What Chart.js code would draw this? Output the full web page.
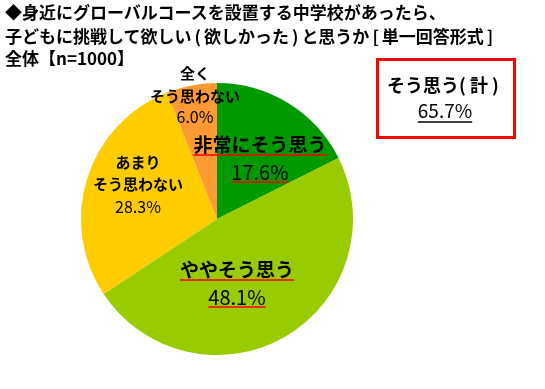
<!DOCTYPE html>
<html lang="ja">
<head>
<meta charset="utf-8">
<script src="https://cdn.jsdelivr.net/npm/chart.js@4"></script>
<style>
  html, body { margin: 0; padding: 0; background: #fff; }
  #wrap { position: relative; width: 545px; height: 389px; overflow: hidden; }
  #chart { position: absolute; left: 0; top: 0; }
  .title {
    position: absolute; left: 5px; margin: 0;
    font: bold 17px "Noto Sans CJK JP", sans-serif; color: #000;
    line-height: 20px; white-space: nowrap;
  }
  .p { margin: 0 3px; }
</style>
</head>
<body>
<div id="wrap">
  <canvas id="chart" width="545" height="389"></canvas>
  <div class="title" style="top:2px">◆身近にグローバルコースを設置する中学校があったら、</div>
  <div class="title" style="top:26px">子どもに挑戦して欲しい<span class="p">(</span>欲しかった<span class="p">)</span>と思うか<span class="p">[</span>単一回答形式<span class="p">]</span></div>
  <div class="title" style="top:48px">全体【n=1000】</div>
</div>
<script>
/* ---- Dados ---- */
const categories = ['非常にそう思う', 'ややそう思う', 'あまりそう思わない', '全くそう思わない'];
const shares     = [17.6, 48.1, 28.3, 6.0];
const colors     = ['#009900', '#99CC00', '#FFCC00', '#FF9933'];
const totalLabel = 'そう思う( 計 )';
const totalValue = 65.7;

/* ---- Rótulos (posição fixa, como no original) ---- */
const sliceLabels = [
  { lines: ['非常にそう思う'], x: 260, y: [145], pctY: 172, big: true },
  { lines: ['ややそう思う'],   x: 237, y: [270], pctY: 297, big: true },
  { lines: ['あまり', 'そう思わない'], x: 138, y: [162, 184], pctY: 207, big: false },
  { lines: ['全く', 'そう思わない'],   x: 195, y: [73, 96],   pctY: 117, big: false }
];

const JP = '"Noto Sans CJK JP", sans-serif';

function underline(ctx, text, x, y, color) {
  const w = ctx.measureText(text).width;
  ctx.save();
  ctx.strokeStyle = color;
  ctx.lineWidth = 1.5;
  ctx.beginPath();
  ctx.moveTo(x - w / 2, y);
  ctx.lineTo(x + w / 2, y);
  ctx.stroke();
  ctx.restore();
}

const labelPlugin = {
  id: 'labels',
  afterDraw(chart) {
    const ctx = chart.ctx;
    ctx.save();
    ctx.textAlign = 'center';
    ctx.textBaseline = 'middle';
    ctx.fillStyle = '#000';

    sliceLabels.forEach((lb, i) => {
      const pct = shares[i].toFixed(1) + '%';
      if (lb.big) {
        ctx.font = 'bold 19px ' + JP;
        ctx.fillText(lb.lines[0], lb.x, lb.y[0]);
        underline(ctx, lb.lines[0], lb.x, lb.y[0] + 10, '#FF0000');
        ctx.font = '20px ' + JP;
        ctx.fillText(pct, lb.x, lb.pctY);
        underline(ctx, pct, lb.x, lb.pctY + 10, '#FF0000');
      } else {
        ctx.font = 'bold 15px ' + JP;
        lb.lines.forEach((t, k) => ctx.fillText(t, lb.x, lb.y[k]));
        ctx.font = '16px ' + JP;
        ctx.fillText(pct, lb.x, lb.pctY);
      }
    });

    // Caixa "そう思う(計)"
    ctx.strokeStyle = '#FF0000';
    ctx.lineWidth = 3;
    ctx.strokeRect(377.5, 59.5, 137, 78);
    ctx.font = 'bold 18px ' + JP;
    ctx.fillText(totalLabel, 443, 85);
    ctx.font = '19px ' + JP;
    const tv = totalValue.toFixed(1) + '%';
    ctx.fillText(tv, 445, 111);
    underline(ctx, tv, 445, 122, '#000');
    ctx.restore();
  }
};

new Chart(document.getElementById('chart'), {
  type: 'pie',
  data: {
    labels: categories,
    datasets: [{
      data: shares,
      backgroundColor: colors,
      borderWidth: 0
    }]
  },
  options: {
    responsive: false,
    animation: false,
    layout: { padding: { left: 81, right: 192, top: 83, bottom: 34 } },
    plugins: { legend: { display: false }, tooltip: { enabled: false } }
  },
  plugins: [labelPlugin]
});
</script>
</body>
</html>
